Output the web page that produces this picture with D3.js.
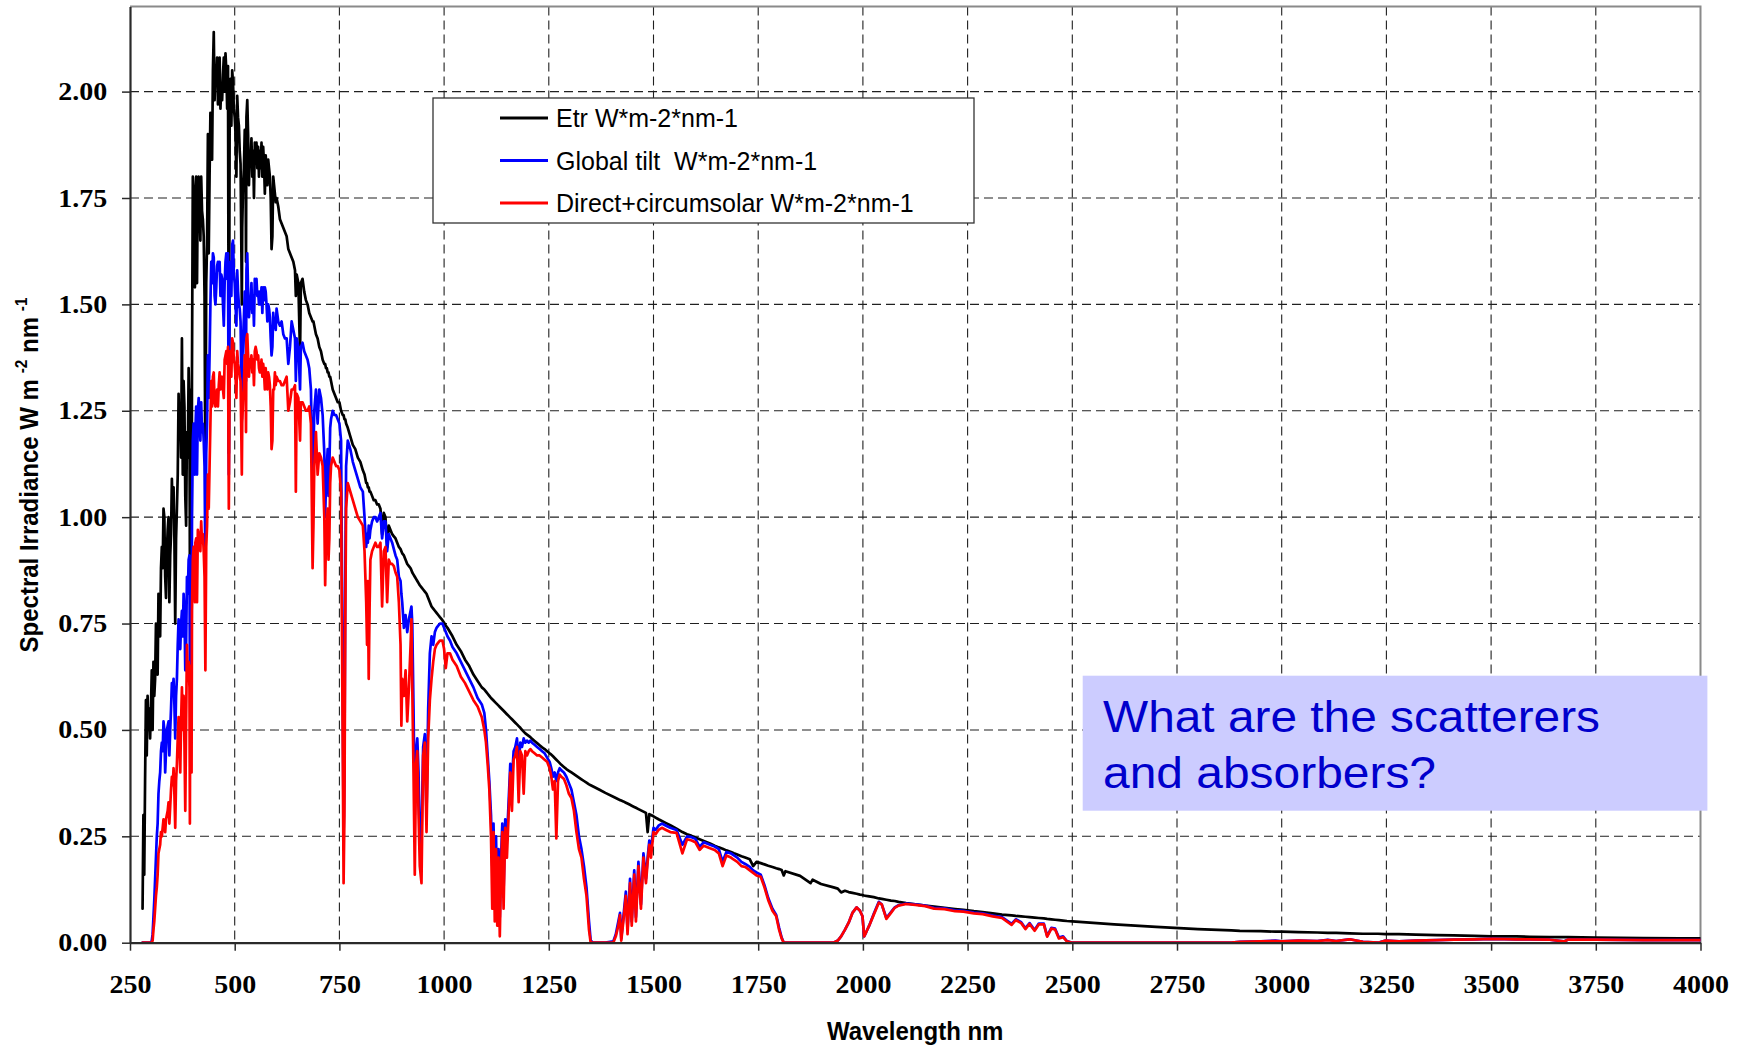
<!DOCTYPE html>
<html>
<head>
<meta charset="utf-8">
<script src="https://cdn.jsdelivr.net/npm/d3@7"></script>
<style>
  html, body { margin: 0; padding: 0; background: #ffffff; }
  svg { display: block; }
</style>
</head>
<body>
<svg id="chart" width="1746" height="1047"></svg>
<script>
// Spectral irradiance (W m-2 nm-1) sampled on a shared wavelength grid (nm)
const wavelength = [
  280,282,284,286,288,290,292,294,296,298,
  300,302,304,306,308,310,312,314,316,318,
  320,322,324,326,328,330,332,334,336,338,
  340,342,344,346,348,350,352,354,356,358,
  360,362,364,366,368,370,372,374,376,378,
  380,382,384,386,388,390,392,393,394,396,
  397,398,400,402,404,405,406,408,410,412,
  414,416,418,420,422,424,426,428,430,432,
  434,436,438,440,442,444,446,448,450,452,
  454,456,458,460,462,464,466,468,470,472,
  474,476,478,480,482,484,486,488,490,492,
  494,496,498,500,502,504,506,508,510,512,
  514,516,517,518,520,522,524,526,527,528,
  530,532,534,536,538,540,542,544,546,548,
  550,552,554,556,558,560,562,564,566,568,
  570,572,574,576,578,580,582,584,586,588,
  590,592,594,596,598,600,604,608,612,616,
  620,624,628,632,636,640,644,646,648,652,
  656,658,662,666,670,674,678,682,686,688,
  690,694,698,702,706,710,714,716,718,720,
  722,724,726,728,730,734,738,742,746,750,
  754,758,760,762,764,766,770,776,782,788,
  794,800,806,810,814,816,818,820,822,824,
  828,832,836,840,844,848,852,856,860,864,
  868,872,876,880,884,888,892,896,898,900,
  904,908,912,916,920,922,924,927,930,933,
  936,939,942,946,950,954,958,962,966,970,
  974,978,982,986,990,996,1000,1004,1008,1014,
  1020,1030,1040,1050,1060,1070,1080,1090,1096,1100,
  1104,1108,1112,1115,1118,1121,1124,1127,1130,1133,
  1136,1139,1142,1146,1150,1154,1158,1162,1166,1170,
  1174,1178,1182,1186,1190,1194,1198,1202,1206,1210,
  1216,1222,1228,1234,1240,1246,1252,1256,1260,1264,
  1268,1272,1276,1280,1286,1292,1298,1304,1310,1316,
  1322,1328,1334,1340,1346,1350,1356,1370,1385,1404,
  1410,1416,1420,1423,1428,1434,1438,1444,1448,1454,
  1458,1464,1470,1476,1482,1486,1490,1494,1500,1505,
  1512,1520,1530,1540,1555,1569,1580,1591,1600,1610,
  1620,1635,1646,1656,1665,1674,1685,1692,1700,1710,
  1719,1730,1738,1746,1756,1765,1774,1784,1793,1800,
  1806,1811,1815,1850,1875,1880,1900,1930,1940,1948,
  1957,1966,1975,1985,1993,1999,2003,2008,2015,2026,
  2038,2045,2056,2067,2076,2085,2103,2125,2149,2170,
  2195,2220,2240,2265,2286,2310,2332,2355,2365,2378,
  2388,2398,2410,2420,2432,2440,2450,2459,2468,2478,
  2487,2500,2600,2700,2800,2880,2900,2950,2985,3000,
  3040,3085,3110,3130,3162,3194,3230,3248,3280,3320,
  3370,3411,3460,3502,3560,3592,3640,3674,3683,3750,
  3864,3950,4000
];

// Extraterrestrial irradiance
const etr = [
  .08,.30,.16,.38,.57,.44,.58,.50,.55,.48,
  .55,.64,.50,.66,.58,.62,.75,.70,.63,.82,
  .76,.72,.88,.93,.88,1.02,1.00,.86,.81,.92,
  .97,1.00,.80,.91,.96,1.09,1.00,1.07,.95,.75,
  .95,1.02,1.10,1.29,1.20,1.26,1.14,1.42,1.10,1.32,
  1.26,1.05,.98,1.20,1.14,1.35,1.25,.87,1.30,1.15,
  .88,1.35,1.80,1.76,1.70,1.54,1.72,1.80,1.55,1.78,
  1.80,1.73,1.65,1.80,1.72,1.70,1.66,1.52,1.07,1.55,
  1.64,1.90,1.62,1.80,1.95,1.90,1.84,2.05,2.14,1.98,
  2.06,2.02,2.08,1.97,2.00,2.08,1.96,2.02,1.98,2.04,
  2.08,2.00,2.09,2.05,1.96,2.06,1.15,1.95,2.03,1.92,
  2.05,2.02,1.96,1.94,1.90,1.80,1.99,1.94,1.92,1.86,
  1.83,1.62,1.50,1.68,1.78,1.82,1.91,1.80,1.60,1.94,
  1.98,1.90,1.78,1.86,1.83,1.89,1.80,1.86,1.75,1.88,
  1.85,1.88,1.82,1.87,1.80,1.86,1.82,1.88,1.80,1.87,
  1.83,1.76,1.85,1.82,1.78,1.84,1.82,1.80,1.75,1.63,
  1.66,1.80,1.78,1.76,1.74,1.75,1.73,1.70,1.69,1.68,
  1.67,1.66,1.63,1.62,1.61,1.60,1.58,1.52,1.57,1.55,
  1.38,1.55,1.56,1.53,1.51,1.50,1.48,1.47,1.46,1.46,
  1.45,1.43,1.42,1.40,1.39,1.37,1.36,1.36,1.35,1.35,
  1.34,1.34,1.33,1.33,1.32,1.30,1.29,1.28,1.27,1.27,
  1.25,1.24,1.24,1.23,1.23,1.22,1.21,1.19,1.17,1.16,
  1.14,1.13,1.11,1.10,1.08,1.08,1.07,1.07,1.06,1.06,
  1.05,1.04,1.04,1.03,1.03,1.02,.96,1.01,1.00,.93,
  .98,.97,.96,.955,.95,.94,.93,.925,.92,.915,
  .91,.90,.89,.885,.88,.875,.87,.865,.86,.855,
  .85,.845,.84,.835,.83,.825,.82,.81,.80,.79,
  .785,.78,.775,.77,.765,.758,.752,.745,.74,.73,
  .72,.70,.685,.665,.65,.63,.615,.60,.595,.59,
  .585,.58,.575,.572,.569,.566,.563,.56,.557,.554,
  .551,.548,.545,.541,.537,.533,.529,.525,.521,.517,
  .513,.509,.505,.50,.496,.492,.489,.486,.483,.479,
  .474,.469,.464,.459,.455,.45,.445,.442,.438,.434,
  .43,.426,.422,.418,.413,.408,.404,.40,.396,.392,
  .388,.384,.38,.376,.372,.37,.367,.36,.352,.343,
  .34,.337,.335,.334,.332,.329,.327,.324,.322,.319,
  .317,.314,.311,.308,.305,.26,.302,.30,.297,.294,
  .29,.286,.281,.276,.268,.26,.255,.251,.247,.243,
  .239,.233,.228,.224,.221,.217,.213,.21,.207,.203,
  .20,.196,.18,.19,.187,.184,.181,.178,.175,.173,
  .171,.158,.168,.157,.14,.148,.138,.13,.127,.118,
  .122,.119,.117,.115,.113,.112,.111,.11,.109,.107,
  .104,.103,.101,.099,.098,.096,.093,.09,.087,.085,
  .082,.079,.077,.074,.072,.069,.066,.064,.063,.062,
  .061,.06,.059,.058,.057,.056,.055,.054,.053,.052,
  .051,.05,.043,.037,.032,.029,.028,.027,.026,.026,
  .025,.024,.023,.023,.022,.021,.021,.02,.02,.019,
  .018,.017,.016,.015,.015,.014,.013,.013,.013,.012,
  .011,.010,.010
];

// Global irradiance on a tilted surface
const globalTilt = [
  0,0,0,0,0,0,0,0,0,0,
  0,.005,.02,.06,.10,.15,.20,.25,.28,.35,
  .38,.40,.45,.47,.45,.52,.50,.40,.45,.50,
  .51,.52,.44,.50,.55,.61,.59,.62,.56,.48,
  .58,.62,.70,.76,.72,.69,.75,.78,.72,.82,
  .78,.64,.70,.86,.82,.90,.91,.62,.90,.85,
  .68,1.00,1.18,1.22,1.15,1.10,1.20,1.26,1.10,1.25,
  1.28,1.23,1.18,1.27,1.20,1.22,1.18,1.12,.88,1.15,
  1.22,1.38,1.28,1.38,1.50,1.60,1.55,1.62,1.61,1.52,
  1.50,1.54,1.59,1.60,1.58,1.60,1.52,1.57,1.56,1.50,
  1.45,1.55,1.60,1.62,1.56,1.62,1.10,1.54,1.60,1.52,
  1.64,1.65,1.57,1.55,1.50,1.45,1.58,1.53,1.50,1.49,
  1.46,1.32,1.23,1.36,1.42,1.47,1.53,1.45,1.32,1.58,
  1.62,1.53,1.47,1.50,1.50,1.55,1.48,1.52,1.45,1.56,
  1.55,1.56,1.52,1.53,1.50,1.53,1.50,1.54,1.48,1.54,
  1.51,1.54,1.53,1.50,1.46,1.50,1.49,1.47,1.42,1.38,
  1.40,1.48,1.45,1.46,1.44,1.49,1.46,1.45,1.46,1.43,
  1.42,1.42,1.36,1.40,1.46,1.44,1.42,1.32,1.42,1.40,
  1.30,1.40,1.41,1.39,1.38,1.37,1.35,1.30,1.08,1.15,
  1.25,1.30,1.22,1.30,1.28,1.24,1.15,1.00,1.08,1.12,
  1.16,1.05,1.12,1.21,1.23,1.25,1.24,1.24,1.23,1.22,
  1.18,.60,.25,.40,.85,1.12,1.18,1.16,1.13,1.11,
  1.09,1.07,1.06,1.00,.93,.96,.94,.98,.95,.97,
  .99,1.00,1.00,.99,1.00,1.01,.95,.99,.99,.92,
  .96,.95,.94,.925,.91,.90,.86,.85,.82,.80,
  .74,.77,.73,.76,.78,.79,.75,.55,.30,.45,
  .48,.40,.22,.25,.46,.49,.30,.55,.68,.72,
  .70,.73,.74,.745,.75,.75,.74,.73,.72,.71,
  .695,.68,.66,.64,.62,.60,.575,.56,.54,.50,
  .44,.38,.30,.18,.28,.12,.25,.08,.22,.06,
  .20,.28,.12,.29,.24,.33,.42,.38,.45,.46,
  .48,.42,.47,.46,.48,.47,.475,.47,.475,.47,
  .465,.46,.455,.45,.445,.435,.425,.41,.39,.40,
  .38,.40,.41,.405,.40,.39,.375,.36,.33,.30,
  .25,.22,.18,.13,.05,.005,0,0,0,.003,
  .02,.05,.07,.01,.06,.12,.03,.15,.05,.17,
  .06,.19,.09,.21,.15,.20,.24,.22,.27,.265,
  .275,.28,.275,.27,.265,.23,.25,.248,.244,.225,
  .236,.23,.226,.22,.19,.213,.21,.205,.20,.19,
  .185,.178,.17,.165,.16,.135,.105,.08,.065,.035,
  .012,0,0,0,0,0,0,0,.005,.015,
  .03,.047,.07,.083,.075,.062,.015,.025,.04,.068,
  .096,.09,.058,.072,.083,.088,.092,.09,.087,.082,
  .081,.076,.075,.071,.069,.064,.06,.044,.055,.048,
  .034,.046,.03,.045,.045,.016,.035,.033,.012,.015,
  .004,0,0,0,0,0,.002,.003,.005,.003,
  .005,.004,.007,.004,.008,.002,0,.005,.003,.005,
  .006,.007,.008,.009,.008,.008,.007,.003,.007,.007,
  .006,.006,.006
];

// Direct normal plus circumsolar irradiance
const directCircumsolar = [
  0,0,0,0,0,0,0,0,0,0,
  0,0,.005,.03,.05,.08,.11,.13,.16,.21,
  .22,.23,.26,.25,.27,.29,.28,.26,.29,.30,
  .31,.33,.28,.32,.36,.39,.37,.41,.35,.27,
  .38,.42,.48,.53,.47,.40,.52,.60,.50,.58,
  .47,.31,.52,.70,.62,.66,.60,.28,.65,.58,
  .40,.78,.90,.93,.88,.80,.94,.95,.80,.97,
  .96,.95,.92,.99,.94,.96,.92,.86,.64,.93,
  .98,1.10,1.02,1.12,1.22,1.32,1.26,1.33,1.34,1.27,
  1.26,1.28,1.30,1.26,1.31,1.34,1.30,1.32,1.33,1.30,
  1.28,1.37,1.38,1.39,1.36,1.40,1.02,1.35,1.39,1.33,
  1.42,1.41,1.37,1.36,1.33,1.28,1.39,1.36,1.35,1.33,
  1.32,1.18,1.10,1.22,1.28,1.31,1.38,1.32,1.20,1.42,
  1.43,1.38,1.33,1.37,1.36,1.38,1.34,1.37,1.31,1.39,
  1.40,1.39,1.37,1.38,1.35,1.34,1.34,1.37,1.33,1.36,
  1.34,1.30,1.35,1.32,1.30,1.34,1.33,1.31,1.26,1.16,
  1.18,1.30,1.30,1.34,1.31,1.33,1.32,1.32,1.31,1.31,
  1.32,1.33,1.25,1.27,1.30,1.30,1.31,1.06,1.29,1.28,
  1.18,1.27,1.27,1.26,1.25,1.25,1.26,1.22,.88,.98,
  1.12,1.20,1.10,1.15,1.14,1.12,1.00,.84,.95,.98,
  1.02,.90,.95,1.08,1.12,1.14,1.13,1.12,1.12,1.11,
  1.06,.45,.14,.30,.75,1.02,1.08,1.06,1.04,1.02,
  1.00,.99,.98,.92,.80,.70,.85,.62,.78,.90,
  .92,.93,.94,.93,.93,.94,.79,.92,.93,.80,
  .90,.89,.89,.885,.87,.86,.80,.70,.51,.62,
  .58,.64,.52,.60,.70,.76,.60,.40,.16,.42,
  .45,.30,.18,.14,.44,.47,.26,.48,.57,.62,
  .66,.69,.70,.705,.71,.71,.69,.645,.68,.68,
  .665,.65,.625,.61,.59,.57,.555,.53,.50,.47,
  .42,.36,.25,.08,.26,.05,.22,.04,.20,.015,
  .17,.26,.08,.27,.20,.30,.40,.31,.43,.44,
  .46,.33,.45,.44,.35,.45,.44,.45,.455,.45,
  .445,.44,.44,.435,.43,.425,.41,.39,.36,.38,
  .245,.38,.395,.39,.385,.37,.35,.34,.31,.26,
  .22,.20,.15,.11,.03,0,0,0,0,0,
  .015,.04,.065,.005,.05,.11,.02,.14,.04,.16,
  .05,.18,.08,.20,.14,.19,.23,.20,.26,.255,
  .265,.27,.265,.26,.258,.21,.243,.24,.236,.218,
  .228,.222,.218,.21,.18,.205,.20,.195,.19,.18,
  .178,.17,.164,.158,.155,.13,.10,.075,.062,.03,
  .01,0,0,0,0,0,0,0,.005,.015,
  .03,.047,.07,.083,.075,.062,.015,.025,.04,.066,
  .094,.09,.056,.07,.082,.087,.091,.089,.086,.08,
  .079,.074,.073,.069,.067,.062,.058,.042,.053,.046,
  .032,.044,.028,.043,.043,.014,.033,.031,.01,.013,
  .003,0,0,0,0,0,.002,.003,.004,.003,
  .005,.004,.006,.004,.008,.002,0,.005,.003,.005,
  .006,.007,.008,.009,.008,.008,.007,.003,.007,.007,
  .006,.006,.006
];

const xTickValues = [250,500,750,1000,1250,1500,1750,2000,2250,2500,2750,3000,3250,3500,3750,4000];
const yTickValues = [0,0.25,0.5,0.75,1.0,1.25,1.5,1.75,2.0];
const seriesLabels = ["Etr W*m-2*nm-1", "Global tilt  W*m-2*nm-1", "Direct+circumsolar W*m-2*nm-1"];
const seriesColors = ["#000000", "#0000ff", "#ff0000"];
const xTitle = "Wavelength nm";
const noteLines = ["What are the scatterers", "and absorbers?"];

// ---- layout ----
const svg = d3.select("#chart");
const plot = { left: 130, right: 1700.5, top: 6.5, bottom: 942.7 };
const x = d3.scaleLinear().domain([250, 4000]).range([plot.left, plot.right]);
const y = d3.scaleLinear().domain([0, 2.2]).range([plot.bottom, plot.top]);

svg.append("rect").attr("width", 1746).attr("height", 1047).attr("fill", "#ffffff");

// dashed gridlines
const grid = svg.append("g").attr("stroke", "#202020").attr("stroke-width", 1.1)
  .attr("stroke-dasharray", "9,5").attr("fill", "none");
grid.selectAll("line.h").data(yTickValues.filter(v => v > 0)).join("line")
  .attr("class", "h")
  .attr("x1", plot.left).attr("x2", plot.right)
  .attr("y1", d => y(d)).attr("y2", d => y(d));
grid.selectAll("line.v").data(xTickValues.filter(v => v > 250 && v < 4000)).join("line")
  .attr("class", "v")
  .attr("y1", y(2.2)).attr("y2", plot.bottom)
  .attr("x1", d => x(d)).attr("x2", d => x(d));

// plot frame (top and right edges)
svg.append("path")
  .attr("d", `M${plot.left},${y(2.2)}H${plot.right}V${plot.bottom}`)
  .attr("fill", "none").attr("stroke", "#8a8a8a").attr("stroke-width", 2);

// spectra
svg.append("clipPath").attr("id", "plotClip").append("rect")
  .attr("x", plot.left).attr("y", y(2.2))
  .attr("width", plot.right - plot.left).attr("height", plot.bottom - y(2.2));

const series = [etr, globalTilt, directCircumsolar];
const idx = d3.range(wavelength.length);
const lines = svg.append("g").attr("clip-path", "url(#plotClip)");
series.forEach((vals, k) => {
  const line = d3.line().x(i => x(wavelength[i])).y(i => y(vals[i]));
  lines.append("path")
    .attr("d", line(idx))
    .attr("fill", "none")
    .attr("stroke", seriesColors[k])
    .attr("stroke-width", 2.7)
    .attr("stroke-linejoin", "round")
    .attr("stroke-linecap", "round");
});

// axes
const labelStretch = 1.12;
const xAxis = d3.axisBottom(x).tickValues(xTickValues).tickFormat(d3.format("d"))
  .tickSizeInner(8).tickSizeOuter(0).tickPadding(25);
const gx = svg.append("g").attr("transform", `translate(0,${plot.bottom})`).call(xAxis);
gx.select(".domain").attr("stroke", "#2a2a2a").attr("stroke-width", 2.2);
gx.selectAll(".tick line").attr("stroke", "#2a2a2a").attr("stroke-width", 1.5);
gx.selectAll(".tick text")
  .attr("font-family", "'Liberation Serif', 'Times New Roman', serif")
  .attr("font-weight", "bold").attr("font-size", 25).attr("fill", "#000")
  .attr("transform", `scale(${labelStretch},1)`);

const yAxis = d3.axisLeft(y).tickValues(yTickValues).tickFormat(d3.format(".2f"))
  .tickSizeInner(8).tickSizeOuter(0).tickPadding(14.7);
const gy = svg.append("g").attr("transform", `translate(${plot.left},0)`).call(yAxis);
gy.select(".domain").attr("stroke", "#2a2a2a").attr("stroke-width", 2.2);
gy.selectAll(".tick line").attr("stroke", "#2a2a2a").attr("stroke-width", 1.5);
gy.selectAll(".tick text")
  .attr("font-family", "'Liberation Serif', 'Times New Roman', serif")
  .attr("font-weight", "bold").attr("font-size", 25).attr("fill", "#000")
  .attr("x", -22.7 / labelStretch)
  .attr("transform", `scale(${labelStretch},1)`);

// axis titles
svg.append("text")
  .attr("x", (plot.left + plot.right) / 2).attr("y", 1040)
  .attr("text-anchor", "middle")
  .attr("font-family", "'Liberation Sans', Arial, sans-serif")
  .attr("font-weight", "bold").attr("font-size", 25)
  .attr("transform", `translate(${(plot.left + plot.right) / 2},0) scale(0.96,1) translate(${-(plot.left + plot.right) / 2},0)`)
  .text(xTitle);

const yt = svg.append("text")
  .attr("transform", "translate(38,475) rotate(-90) scale(0.96,1)")
  .attr("text-anchor", "middle")
  .attr("font-family", "'Liberation Sans', Arial, sans-serif")
  .attr("font-weight", "bold").attr("font-size", 25);
yt.append("tspan").text("Spectral Irradiance W m");
yt.append("tspan").attr("dx", 6).attr("dy", -11).attr("font-size", 16).text("-2");
yt.append("tspan").attr("dy", 11).text(" nm");
yt.append("tspan").attr("dx", 6).attr("dy", -11).attr("font-size", 16).text("-1");

// legend
const legend = svg.append("g");
legend.append("rect")
  .attr("x", 433).attr("y", 98).attr("width", 541).attr("height", 125)
  .attr("fill", "#ffffff").attr("stroke", "#333333").attr("stroke-width", 1.3);
const rowY = [118, 160.5, 203];
seriesLabels.forEach((label, k) => {
  legend.append("line")
    .attr("x1", 500).attr("x2", 548).attr("y1", rowY[k]).attr("y2", rowY[k])
    .attr("stroke", seriesColors[k]).attr("stroke-width", 3);
  legend.append("text")
    .attr("x", 556).attr("y", rowY[k]).attr("dy", "0.36em")
    .attr("font-family", "'Liberation Sans', Arial, sans-serif")
    .attr("font-size", 25).attr("fill", "#000")
    .style("white-space", "pre")
    .text(label);
});

// question box
const note = svg.append("g");
note.append("rect")
  .attr("x", 1082.7).attr("y", 675.7).attr("width", 624.7).attr("height", 135)
  .attr("fill", "#ccccff");
const noteBaselines = [731.7, 788.3];
const noteWidths = [497, 333];
noteLines.forEach((t, k) => {
  note.append("text")
    .attr("x", 1103).attr("y", noteBaselines[k])
    .attr("font-family", "'Liberation Sans', Arial, sans-serif")
    .attr("font-size", 45).attr("fill", "#0000cc")
    .attr("textLength", noteWidths[k]).attr("lengthAdjust", "spacingAndGlyphs")
    .text(t);
});
</script>
</body>
</html>
